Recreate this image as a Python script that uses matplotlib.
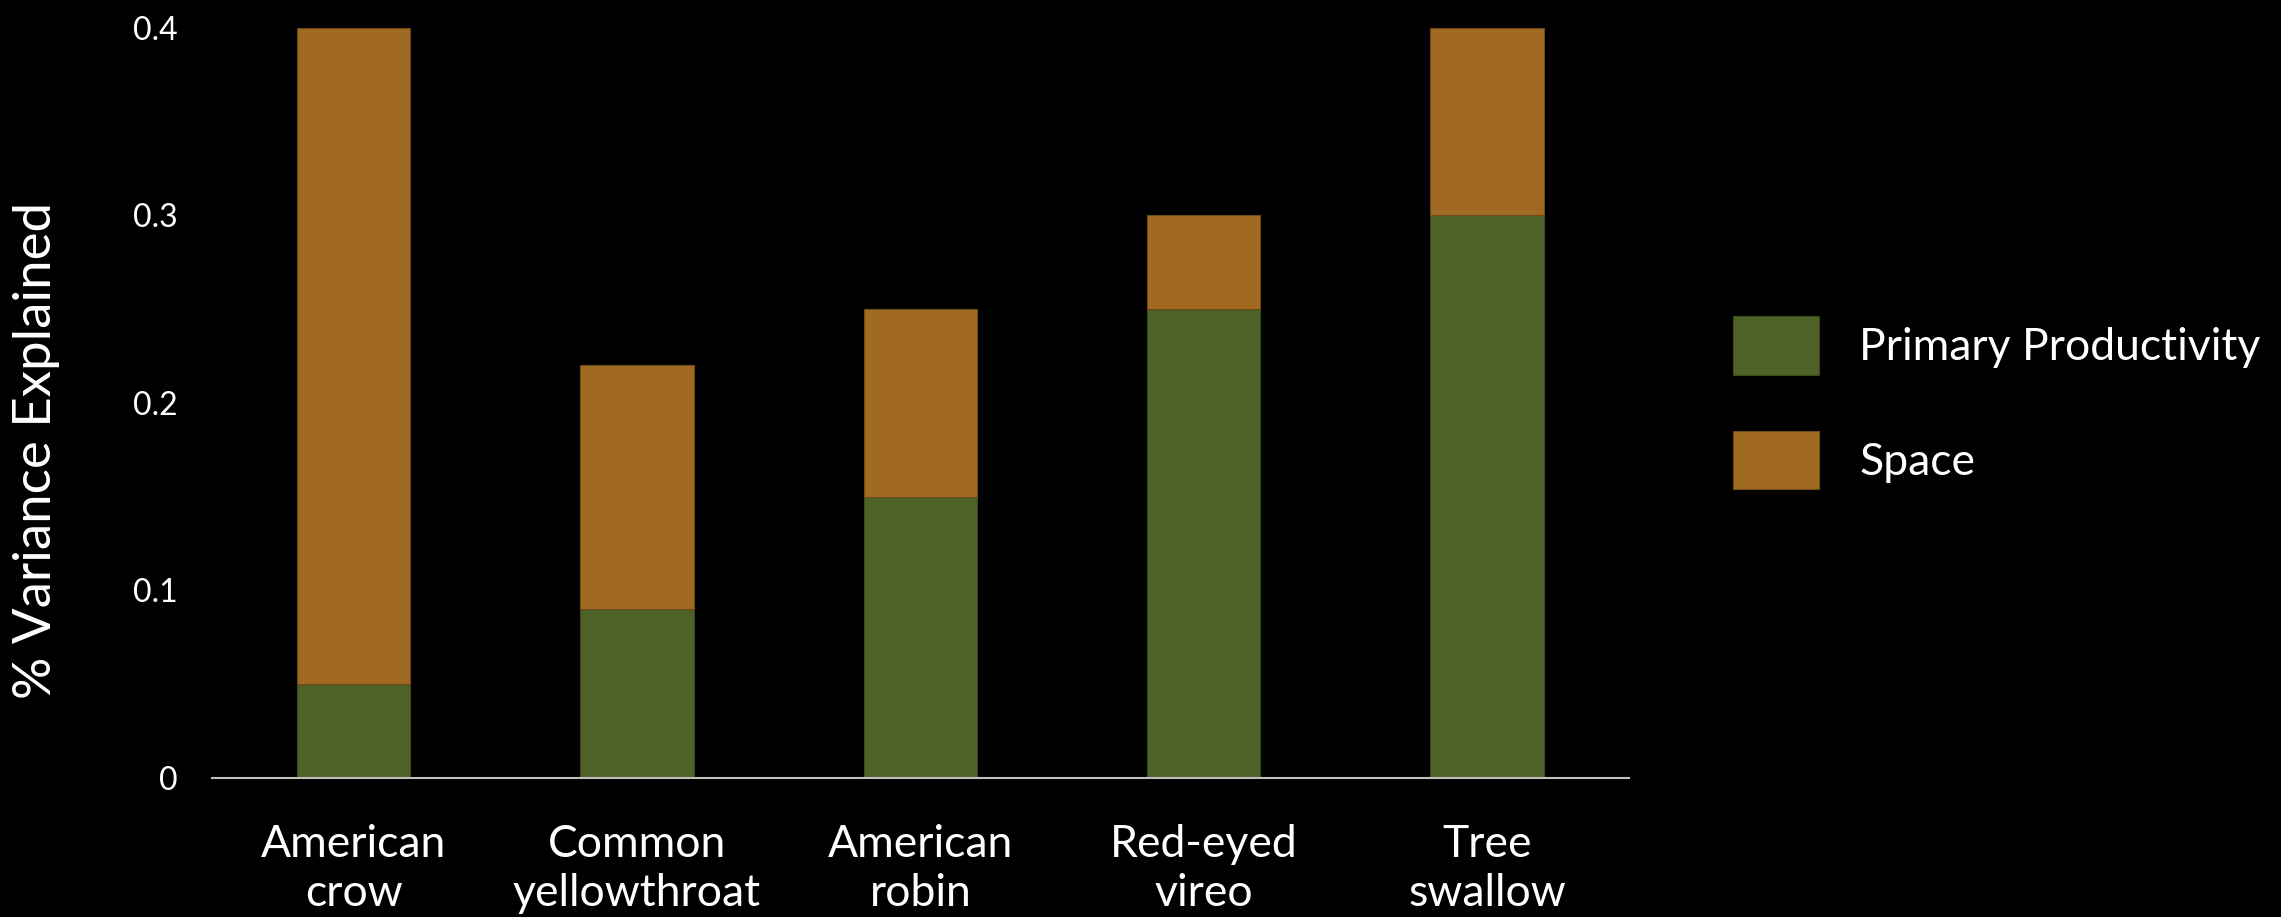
import numpy as np
import matplotlib.pyplot as plt

plt.rcParams['font.family'] = ['Lato', 'DejaVu Sans']

species = ["American\ncrow", "Common\nyellowthroat", "American\nrobin",
           "Red-eyed\nvireo", "Tree\nswallow"]
productivity = [0.05, 0.09, 0.15, 0.25, 0.30]
space = [0.35, 0.13, 0.10, 0.05, 0.10]
yticks = [0, 0.1, 0.2, 0.3, 0.4]
ytick_labels = ["0", "0.1", "0.2", "0.3", "0.4"]

green = "#4E6126"
orange = "#A16A22"

fig = plt.figure(figsize=(22.81, 9.17), dpi=100, facecolor="black")
ax = fig.add_axes([0.0929, 0.1516, 0.6212, 0.8184], facecolor="black")

x = np.arange(len(species))
ax.bar(x, productivity, width=0.4, color=green, edgecolor="#3a4a1c",
       linewidth=0.8, label="Primary Productivity")
ax.bar(x, space, width=0.4, bottom=productivity, color=orange,
       edgecolor="#6e4a18", linewidth=0.8, label="Space")

ax.set_xlim(-0.5, 4.5)
ax.set_ylim(0, 0.4)
ax.set_yticks(yticks)
ax.set_yticklabels(ytick_labels)
ax.set_xticks(x)
ax.set_xticklabels(species, linespacing=1.25)

for side in ["top", "right", "left"]:
    ax.spines[side].set_visible(False)
ax.spines["bottom"].set_color("#BFBFBF")
ax.spines["bottom"].set_linewidth(1.5)

ax.tick_params(axis="y", length=0, pad=25, labelsize=23, labelcolor="white")
ax.tick_params(axis="x", length=0, pad=33, labelsize=32, labelcolor="white")

fig.text(0.016, 0.509, "% Variance Explained", rotation=90, color="white",
         fontsize=38, ha="center", va="center")

leg = ax.legend(loc="center left", bbox_to_anchor=(1.045, 0.5), frameon=False,
                fontsize=32, handlelength=1.95, handleheight=1.65,
                handletextpad=0.9, labelspacing=1.26)
for t in leg.get_texts():
    t.set_color("white")

fig.savefig("out.png", dpi=100, facecolor="black")
